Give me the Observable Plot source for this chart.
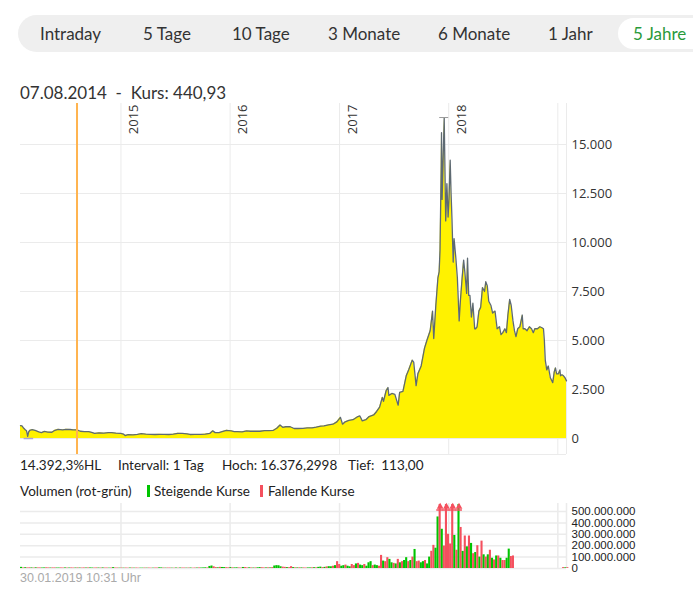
<!DOCTYPE html>
<html><head><meta charset="utf-8">
<script src="https://cdn.jsdelivr.net/npm/d3@7"></script>
<script src="https://cdn.jsdelivr.net/npm/@observablehq/plot@0.6"></script>
<style>
html,body{margin:0;padding:0;background:#fff;overflow:hidden;}
#root{position:relative;width:693px;height:590px;overflow:hidden;font-family:Lato,"Open Sans",sans-serif;color:#333;}
.abs{position:absolute;white-space:pre;}
#tabbar{position:absolute;left:18px;top:15px;width:720px;height:37px;border-radius:19px;background:#efefef;}
#pill{position:absolute;left:618px;top:18px;width:110px;height:31px;border-radius:16px;background:#fff;}
.svgbox{position:absolute;left:0;}
</style></head>
<body><div id="root">
<div id="tabbar"></div><div id="pill"></div>
</div>
<script>
// ---------- data ----------
const tabs = ["Intraday","5 Tage","10 Tage","3 Monate","6 Monate","1 Jahr","5 Jahre"];
const activeTab = "5 Jahre";
const headerText = "07.08.2014  -  Kurs: 440,93";
const crossDate = "2014-08-07";
const statTexts = ["14.392,3%HL","Intervall: 1 Tag","Hoch: 16.376,2998","Tief:  113,00"];
const legendTitle = "Volumen (rot-grün)";
const legendItems = ["Steigende Kurse","Fallende Kurse"];
const footerText = "30.01.2019 10:31 Uhr";
const yearLabels = ["2015","2016","2017","2018","2019"];
const yearShown = ["2015","2016","2017","2018"];
const priceTicks = [0,2500,5000,7500,10000,12500,15000];
const volTicks = [0,100e6,200e6,300e6,400e6,500e6];
const xStart = "2014-01-30", xEnd = "2019-01-30";

const priceDates = [
"2014-01-30","2014-02-04","2014-02-10","2014-02-15","2014-02-19","2014-02-23","2014-02-26","2014-03-02","2014-03-10","2014-03-20",
"2014-04-01","2014-04-10","2014-04-20","2014-05-01","2014-05-15","2014-05-25","2014-06-05","2014-06-20","2014-07-01","2014-07-15",
"2014-07-25","2014-08-07","2014-08-18","2014-09-01","2014-09-15","2014-09-25","2014-10-05","2014-10-20","2014-11-05","2014-11-20",
"2014-12-01","2014-12-15","2014-12-31",
"2015-01-10","2015-01-15","2015-01-25","2015-02-10","2015-02-25","2015-03-10","2015-03-25","2015-04-10","2015-04-25","2015-05-10",
"2015-05-25","2015-06-10","2015-06-25","2015-07-10","2015-07-25","2015-08-10","2015-08-20","2015-09-05","2015-09-25","2015-10-10",
"2015-10-25","2015-11-04","2015-11-12","2015-11-25","2015-12-05","2015-12-20",
"2016-01-05","2016-01-15","2016-01-25","2016-02-10","2016-02-25","2016-03-10","2016-03-25","2016-04-10","2016-04-25","2016-05-10",
"2016-05-25","2016-06-05","2016-06-16","2016-06-25","2016-07-05","2016-07-20","2016-08-02","2016-08-15","2016-09-01","2016-09-15",
"2016-10-01","2016-10-15","2016-10-30","2016-11-10","2016-11-25","2016-12-10","2016-12-23",
"2017-01-04","2017-01-11","2017-01-20","2017-02-01","2017-02-15","2017-03-01","2017-03-10","2017-03-18","2017-03-30","2017-04-10",
"2017-04-25","2017-05-05","2017-05-15","2017-05-24","2017-05-28","2017-06-06","2017-06-12","2017-06-15","2017-06-25","2017-07-05",
"2017-07-16","2017-07-21","2017-08-01","2017-08-12","2017-08-20","2017-09-01","2017-09-06","2017-09-14","2017-09-20","2017-10-01",
"2017-10-12","2017-10-20","2017-10-31","2017-11-08","2017-11-12","2017-11-19","2017-11-26","2017-11-30","2017-12-03","2017-12-07",
"2017-12-08","2017-12-10","2017-12-13","2017-12-17","2017-12-22","2017-12-26","2017-12-30",
"2018-01-02","2018-01-06","2018-01-09","2018-01-12","2018-01-16","2018-01-19","2018-01-25","2018-01-30","2018-02-05","2018-02-09",
"2018-02-15","2018-02-20","2018-02-24","2018-03-02","2018-03-05","2018-03-09","2018-03-13","2018-03-18","2018-03-23","2018-03-29",
"2018-04-01","2018-04-06","2018-04-12","2018-04-18","2018-04-24","2018-05-01","2018-05-05","2018-05-10","2018-05-15","2018-05-22",
"2018-05-28","2018-06-05","2018-06-12","2018-06-20","2018-06-25","2018-07-01","2018-07-08","2018-07-13","2018-07-18","2018-07-24",
"2018-07-29","2018-08-04","2018-08-09","2018-08-14","2018-08-20","2018-08-27","2018-09-04","2018-09-07","2018-09-13","2018-09-20",
"2018-09-28","2018-10-05","2018-10-11","2018-10-16","2018-10-25","2018-11-02","2018-11-09","2018-11-14","2018-11-17","2018-11-20",
"2018-11-25","2018-11-30","2018-12-07","2018-12-15","2018-12-20","2018-12-24","2018-12-28",
"2019-01-03","2019-01-08","2019-01-10","2019-01-15","2019-01-20","2019-01-25","2019-01-30"];
const priceValues = [
660,640,520,450,400,113,330,420,450,410,
340,300,360,330,320,420,470,440,470,460,
445,441,370,350,355,310,260,290,270,300,
300,270,260,
220,150,200,190,210,245,220,210,205,215,
210,205,220,265,260,240,205,210,210,225,
260,390,300,300,350,420,
390,350,350,340,385,370,370,370,400,400,
420,520,690,570,600,600,510,510,515,540,
545,580,630,640,690,730,850,
1080,730,850,920,960,1100,1150,900,960,1120,
1200,1380,1600,2100,1900,2450,2600,2200,2300,2250,
1700,2350,2400,3200,3500,4000,3900,2700,3300,3700,
4600,5000,5500,6500,5100,6800,8200,8500,9600,13900,
15600,12200,14000,16376,11100,13000,11300,
12200,14200,12500,11200,9000,10200,9200,8200,6000,7000,
8200,9100,8500,7400,9200,7300,7300,6200,6900,5600,
5600,5700,6500,6700,7700,7500,8000,7800,7000,6800,
6400,6500,5600,5700,5300,5400,5600,5400,6300,7100,
6800,6000,5500,5200,5600,5700,6300,5600,5600,5500,
5700,5600,5400,5600,5600,5700,5650,5600,5000,4000,
3500,3700,3100,2850,3400,3600,3300,
3300,3500,3200,3250,3200,3100,2940];

// weekly volume (millions) starting at xStart
const volValues = [
10,5,7,5,6,5,4,6,5,5,4,5,6,5,4,5,5,4,
4,5,4,5,4,4,5,4,4,5,4,4,5,4,5,5,4,4,5,4,
4,5,4,4,3,4,8,4,4,3,4,3,4,3,4,4,3,4,3,3,
3,4,3,4,3,3,4,4,6,5,4,3,4,4,3,3,4,3,4,4,
4,3,4,4,3,4,4,5,4,5,6,5,18,22,15,8,6,10,9,8,
7,6,8,6,5,6,5,4,9,8,5,6,5,4,5,6,8,7,5,5,
6,5,8,22,25,24,15,12,10,8,7,16,8,6,5,6,5,5,4,5,
5,6,7,6,10,12,8,10,14,16,
15,20,25,60,35,20,25,30,20,15,35,25,40,45,30,25,35,20,50,60,
25,30,25,20,115,65,60,95,80,50,45,40,80,50,60,70,95,60,70,100,
167,60,65,50,60,70,40,100,151,203,178,452,999,344,197,999,300,215,999,290,
160,577,360,150,285,190,285,220,130,140,200,100,240,120,100,120,160,90,75,110,
110,90,70,70,90,170,105,110,
0,0,0,0,0,0,0,0,0,0,0,0,0,0,0,0,0,0,0,0,0,0,0,
8,6,7];
const volDir = (
"grgrrgrgrrggrrgrrg"+"grrgrgrrgrgrrgrggrrg"+"rgrrgrgrrgrgrrgrgrrg"+"grgrrgrrggrgrrgrgrgr"+
"rgrgrrgrgggrggrrgrgg"+"rrgrggrrgrrgrgrggrrg"+"rgrggggrrgrrgrgrgrrg"+"grgrggrgrg"+
"grgrrggrggrrgrggrggg"+"rggrrgrrggrgrgrggrgr"+"grrggrggrrggrgrrrrrg"+"rgrgrgrgrgrgrgrgrgrg"+
"rgrrggrr"+"rrrrrrrrrrrrrrrrrrrrrrr"+"rgr").split("");

// ---------- build ----------
const parse = d3.utcParse("%Y-%m-%d");
const de = d3.formatLocale({decimal:",",thousands:".",grouping:[3],currency:["","€"]});
const fmt = de.format(",");
const x0 = parse(xStart), x1 = parse(xEnd);
const price = priceDates.map((d,i)=>({date:parse(d), value:priceValues[i]}));
const years = yearLabels.map(y=>({date:parse(y+"-01-01"), label:y}));
const yearsShown = years.filter(d=>yearShown.includes(d.label));
const cross = parse(crossDate);
const maxPt = price.reduce((a,b)=>b.value>a.value?b:a);
const minPt = price.reduce((a,b)=>b.value<a.value?b:a);
const day = 864e5;
const vol = volValues.map((v,i)=>({
  d0:new Date(+x0+i*7*day), d1:new Date(+x0+(i+1)*7*day), v:v*1e6, dir:volDir[i]||"r"})).filter(d=>d.v>0);
const volMax = 570e6;
const clipped = vol.filter(d=>d.v>volMax);

const root = document.getElementById("root");
function addText(txt, left, top, style){
  const s=document.createElement("div"); s.className="abs"; s.textContent=txt;
  s.style.left=left+"px"; s.style.top=top+"px"; Object.assign(s.style, style||{}); root.appendChild(s); return s;
}
// tabs
const tabLeft=[40,143,232,328,438,548,633];
tabs.forEach((t,i)=>{ addText(t,tabLeft[i],24,{fontSize:"17px",lineHeight:"20px",color: t===activeTab?"#2a9a3a":"#333"}); });
addText(headerText,20,83,{fontSize:"17px",lineHeight:"20px",color:"#333"});
const statLeft=[20,118,222,348];
const smallStyle={fontSize:"13.5px",lineHeight:"16px",color:"#222"};
statTexts.forEach((t,i)=>addText(t,statLeft[i],457,smallStyle));
addText(legendTitle,20,483,smallStyle);
const sw1=document.createElement("div");Object.assign(sw1.style,{position:"absolute",left:"147px",top:"485px",width:"3px",height:"12px",background:"#00c400"});root.appendChild(sw1);
addText(legendItems[0],154,483,smallStyle);
const sw2=document.createElement("div");Object.assign(sw2.style,{position:"absolute",left:"260px",top:"485px",width:"3px",height:"12px",background:"#f4505e"});root.appendChild(sw2);
addText(legendItems[1],268,483,smallStyle);
addText(footerText,20,571,{fontSize:"12.5px",lineHeight:"15px",color:"#aaa",fontFamily:"'Liberation Sans',Arial,sans-serif"});

const grid="#ebebeb";
const yMin=-816, yMax=17092;
const pricePlot = Plot.plot({
  width:693, height:358, marginLeft:20, marginRight:127, marginTop:3, marginBottom:4,
  x:{type:"utc", domain:[x0,x1], axis:null},
  y:{domain:[yMin,yMax], axis:"right", ticks:priceTicks, tickFormat:fmt, tickSize:0, tickPadding:5, label:null},
  style:{fontFamily:"'Open Sans',sans-serif", fontSize:"13px", color:"#333", background:"transparent", overflow:"visible"},
  marks:[
    Plot.ruleY(priceTicks,{stroke:grid}),
    Plot.ruleY([yMin],{stroke:grid}),
    Plot.ruleX(years,{x:"date",stroke:grid}),
    Plot.ruleX([x1],{stroke:grid}),
    Plot.areaY(price,{x:"date",y:"value",fill:"#fff200"}),
    Plot.lineY(price,{x:"date",y:"value",stroke:"#5e6a72",strokeWidth:1.3}),
    Plot.ruleX([cross],{stroke:"#ffb44f",strokeWidth:2}),
    Plot.ruleY([maxPt],{y:"value",x1:d=>new Date(+d.date-15*day),x2:d=>new Date(+d.date+15*day),stroke:"#999"}),
    Plot.ruleY([minPt],{y:0,x1:d=>new Date(+d.date-12*day),x2:d=>new Date(+d.date+20*day),stroke:"#a7a3d8",strokeWidth:1.5}),
    Plot.text(yearsShown,{x:"date",text:"label",frameAnchor:"top",rotate:-90,textAnchor:"end",dx:8,dy:1,fontSize:13,fill:"#333"})
  ]
});
pricePlot.classList.add("svgbox"); pricePlot.style.top="100px"; root.appendChild(pricePlot);

const volPlot = Plot.plot({
  width:693, height:75, marginLeft:20, marginRight:127, marginTop:5, marginBottom:5,
  x:{type:"utc", domain:[x0,x1], axis:null},
  y:{domain:[0,volMax], axis:"right", ticks:volTicks, tickFormat:fmt, tickSize:0, tickPadding:5, label:null},
  style:{fontFamily:"'Liberation Sans',Arial,sans-serif", fontSize:"11.5px", color:"#222", background:"transparent", overflow:"visible"},
  marks:[
    Plot.ruleY(volTicks,{stroke:grid,strokeWidth:1.5}),
    Plot.ruleX(years,{x:"date",stroke:grid,strokeWidth:1.5,y1:0,y2:volMax}),
    Plot.ruleX([x1],{stroke:grid,strokeWidth:1.5}),
    Plot.rectY(vol,{x1:"d0",x2:"d1",y:d=>Math.min(d.v,volMax*0.985),fill:d=>d.dir==="g"?"#00c400":"#f4505e"}),
    Plot.ruleY(clipped,{y:volMax*0.9,x1:d=>new Date(+d.d0-8*day),x2:d=>new Date(+d.d1+8*day),stroke:"#f4505e",strokeWidth:1.5}),
    Plot.dot(clipped,{x:d=>new Date((+d.d0+ +d.d1)/2),y:volMax*0.95,symbol:"triangle",r:2.5,fill:"#f4505e"})
  ]
});
volPlot.classList.add("svgbox"); volPlot.style.top="498px"; root.appendChild(volPlot);
</script>
</body></html>
